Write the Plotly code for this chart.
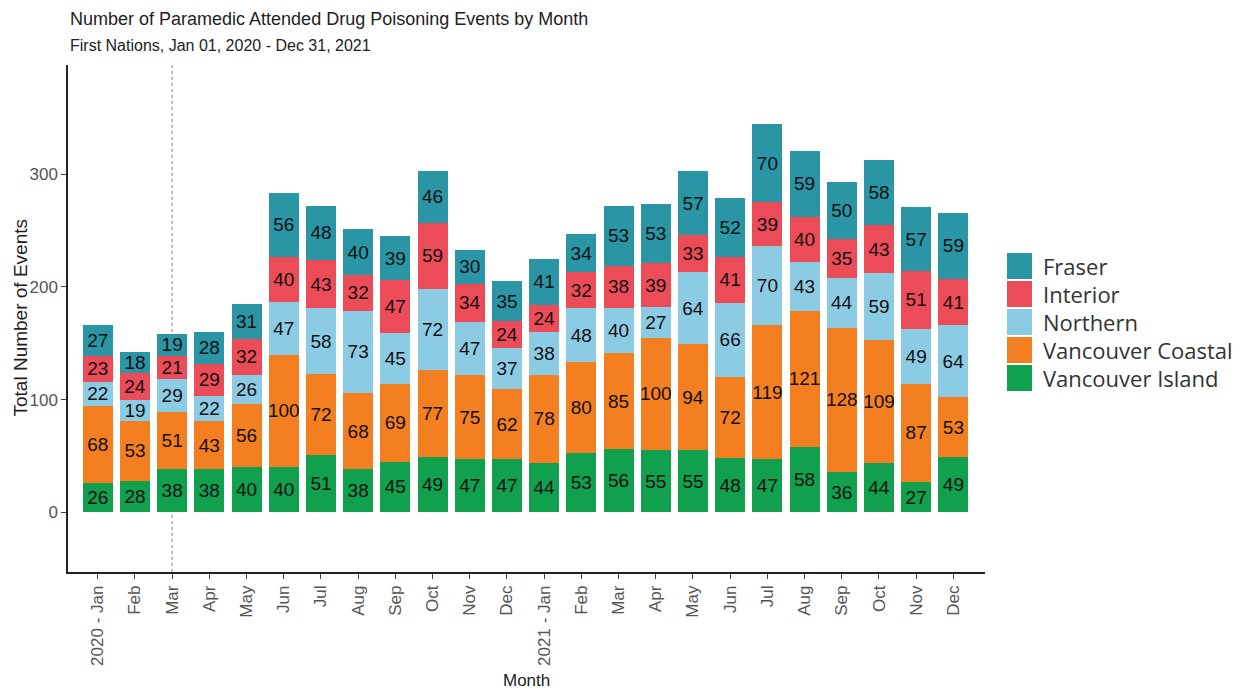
import plotly.graph_objects as go

months = ["2020 - Jan", "Feb", "Mar", "Apr", "May", "Jun", "Jul", "Aug", "Sep", "Oct", "Nov", "Dec",
          "2021 - Jan", "Feb", "Mar", "Apr", "May", "Jun", "Jul", "Aug", "Sep", "Oct", "Nov", "Dec"]

vancouver_island = [26, 28, 38, 38, 40, 40, 51, 38, 45, 49, 47, 47, 44, 53, 56, 55, 55, 48, 47, 58, 36, 44, 27, 49]
vancouver_coastal = [68, 53, 51, 43, 56, 100, 72, 68, 69, 77, 75, 62, 78, 80, 85, 100, 94, 72, 119, 121, 128, 109, 87, 53]
northern = [22, 19, 29, 22, 26, 47, 58, 73, 45, 72, 47, 37, 38, 48, 40, 27, 64, 66, 70, 43, 44, 59, 49, 64]
interior = [23, 24, 21, 29, 32, 40, 43, 32, 47, 59, 34, 24, 24, 32, 38, 39, 33, 41, 39, 40, 35, 43, 51, 41]
fraser = [27, 18, 19, 28, 31, 56, 48, 40, 39, 46, 30, 35, 41, 34, 53, 53, 57, 52, 70, 59, 50, 58, 57, 59]

series = [
    ("Vancouver Island", vancouver_island, "#10A04E"),
    ("Vancouver Coastal", vancouver_coastal, "#F47F20"),
    ("Northern", northern, "#8CCBE4"),
    ("Interior", interior, "#EC4B58"),
    ("Fraser", fraser, "#2A95A5"),
]

x_idx = list(range(len(months)))
marker_month = 2  # Mar 2020 reference line

IMG_W, IMG_H = 1247, 692
OFF = 8  # page body margin offset
L, R, T, B = 68, 985, 65, 572  # plot area in screenshot pixels
FIG_W, FIG_H = IMG_W - OFF, IMG_H - OFF


def px_x(p):
    return (p - L) / (R - L)


def px_y(p):
    return (B - p) / (B - T)


fig = go.Figure()
for name, vals, color in series:
    fig.add_trace(go.Bar(
        x=x_idx, y=vals, name=name,
        marker=dict(color=color, line=dict(width=0)),
        text=vals, textposition="inside", insidetextanchor="middle",
        textangle=0, constraintext="none",
        textfont=dict(family="Liberation Sans, Arial", size=19, color="#111111"),
        showlegend=False,
    ))

fig.add_shape(type="line", xref="x", yref="paper", x0=marker_month, x1=marker_month, y0=0, y1=1,
              line=dict(color="#AAAAAA", width=1.5, dash="dot"), layer="below")

annotations = [
    dict(text="Number of Paramedic Attended Drug Poisoning Events by Month", xref="paper", yref="paper",
         x=0, y=px_y(19), xanchor="left", yanchor="middle", showarrow=False,
         font=dict(family="Liberation Sans, Arial", size=18, color="#222222")),
    dict(text="First Nations, Jan 01, 2020 - Dec 31, 2021", xref="paper", yref="paper",
         x=0, y=px_y(45), xanchor="left", yanchor="middle", showarrow=False,
         font=dict(family="Liberation Sans, Arial", size=16, color="#222222")),
    dict(text="Month", xref="paper", yref="paper",
         x=0.5, y=px_y(680), xanchor="center", yanchor="middle", showarrow=False,
         font=dict(family="Liberation Sans, Arial", size=17, color="#222222")),
    dict(text="Total Number of Events", xref="paper", yref="paper", textangle=-90,
         x=px_x(20), y=0.5, xanchor="center", yanchor="middle", showarrow=False,
         font=dict(family="Liberation Sans, Arial", size=19, color="#222222")),
]

# Manual legend (top entry first)
legend_items = list(reversed(series))
row_top = 253
row_pitch = 28
for i, (name, vals, color) in enumerate(legend_items):
    y0 = row_top + i * row_pitch
    fig.add_shape(type="rect", xref="paper", yref="paper",
                  x0=px_x(1007), x1=px_x(1032), y0=px_y(y0), y1=px_y(y0 + 26),
                  fillcolor=color, line=dict(width=0))
    annotations.append(dict(text=name, xref="paper", yref="paper",
                            x=px_x(1041), y=px_y(y0 + 13), xanchor="left", yanchor="middle",
                            showarrow=False,
                            font=dict(family="Open Sans", size=22, color="#333333")))

fig.update_layout(
    barmode="stack",
    bargap=0.19,
    width=FIG_W, height=FIG_H,
    margin=dict(l=L - OFF, r=FIG_W - (R - OFF), t=T - OFF, b=FIG_H - (B - OFF)),
    paper_bgcolor="white", plot_bgcolor="white",
    font=dict(family="Liberation Sans, Arial", color="#222222"),
    showlegend=False,
    xaxis=dict(
        range=[-0.8, 23.85],
        tickmode="array", tickvals=x_idx, ticktext=months,
        tickangle=-90,
        tickfont=dict(family="Liberation Sans, Arial", size=17, color="#555555"),
        showline=True, linecolor="#222222", linewidth=1.5,
        ticks="outside", ticklen=5, tickcolor="#444444",
        showgrid=False, zeroline=False, automargin=False,
    ),
    yaxis=dict(
        range=[-53, 397],
        tickvals=[0, 100, 200, 300],
        tickfont=dict(family="Liberation Sans, Arial", size=17, color="#555555"),
        showline=True, linecolor="#222222", linewidth=1.5,
        ticks="outside", ticklen=5, tickcolor="#444444",
        showgrid=False, zeroline=False, automargin=False,
    ),
    annotations=annotations,
)

fig.write_html("out.html")
